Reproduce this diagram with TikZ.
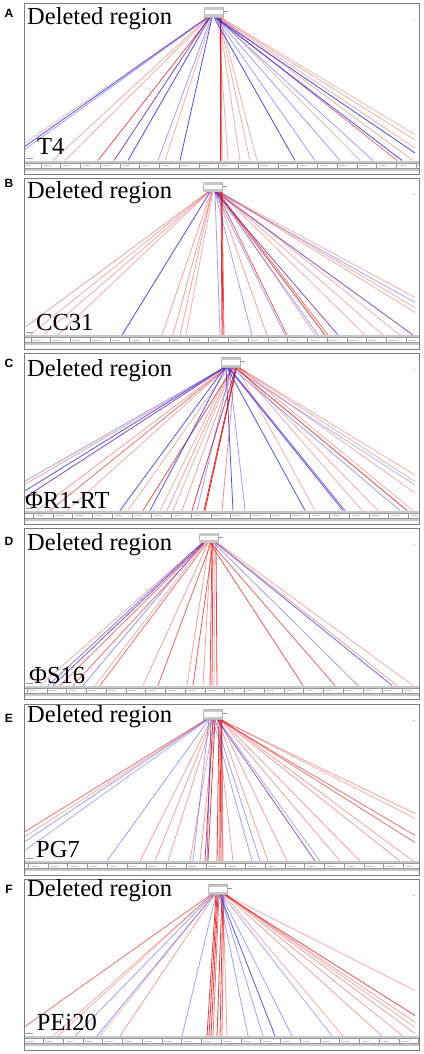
\documentclass[tikz,border=0pt]{standalone}
\usepackage{fontspec}
\setmainfont{Liberation Serif}
\newfontfamily\arialb{Liberation Sans}
\definecolor{rd}{RGB}{222,25,25}
\definecolor{bl}{RGB}{45,45,230}
\definecolor{pu}{RGB}{105,25,165}
\definecolor{fr}{RGB}{125,125,125}
\definecolor{rg}{RGB}{200,200,200}
\tikzset{
  lnk/.style={line width=0.8pt},
  frm/.style={draw=fr,line width=0.8pt},
  tick/.style={draw=fr!80,line width=0.4pt},
  tickt/.style={draw=rg,line width=0.9pt},
  ttl/.style={anchor=base west,inner sep=0pt,font=\fontsize{24.5}{24.5}\selectfont},
  plet/.style={inner sep=0pt,font=\arialb\bfseries\fontsize{12}{12}\selectfont}
}
% #1 top, #2 letter, #3 box x, #4 origin y, #5 label, #6 lines
\newcommand\rpanel[6]{%
\begin{scope}[shift={(0,#1)}]
\begin{scope}
\clip (24,0) rectangle (419,171);
\foreach \sv/\ex/\ey/\cl/\op in {#6}{%
  \draw[lnk,draw=\cl,draw opacity=\op] ({#3+\sv},#4) -- (\ex,\ey);
}
\fill[rg] (24,157) rectangle (419,159.5);
\fill[rg] (24,164.5) rectangle (419,167);
\draw[tick] (24,159.5) -- (419,159.5) (24,164.5) -- (419,164.5);
\foreach \k in {-1,...,20}{%
  \draw[tick] ({\rs+19.75*\k},159.5) -- ({\rs+19.75*\k},164.5);
  \draw[tickt] ({\rs+19.75*\k+2.5},162) -- ({\rs+19.75*\k+10},162);
}
\end{scope}
\draw[fr!60,line width=0.4pt,fill=white] (#3,#4-10) rectangle (#3+19,#4-0.5);
\fill[rg] (#3,#4-10) rectangle (#3+19,#4-7.2);
\fill[rg] (#3,#4-3) rectangle (#3+19,#4-0.5);
\draw[fr!80,line width=0.5pt] (#3+20,#4-6) -- (#3+24,#4-6);
\fill[fr] (414,16.5) circle (0.6);
\draw[fr!80,line width=0.5pt] (25.5,154.5) -- (33,154.5);
\draw[frm] (24,0) rectangle (419,171);
\node[ttl] (ttl#2) at (27,\tb) {Deleted region};
\node[ttl] (lbl#2) at (\lx,\lb) {#5};
\node[plet] (let#2) at (9,\ly) {#2};
\end{scope}}

\begin{document}
\begin{tikzpicture}[x=1pt,y=-1pt]
\fill[white] (0,0) rectangle (423,1054);
\useasboundingbox (0,0) rectangle (423,1054);

\def\ly{10}\def\tb{21.5}\def\lx{37}\def\lb{150.5}\def\rs{40.7}
\rpanel{3.5}{A}{204}{14}{T4}{3/24/143.5/bl/.8, 4/24/146.5/bl/.45, 4/24/140/rd/.3, 4/53/157/rd/.35, 5/65/157/rd/.35, 6/98/157/rd/.75, 5/114/157/pu/.8, 6/128/157/bl/.85, 7/158/157/bl/.45, 8/165/157/rd/.35, 8/180/157/bl/.85, 16/220/157/rd/.85, 16.5/221/157/rd/.85, 17/222/157/rd/.5, 14/228/157/rd/.35, 15/240/157/rd/.35, 15/250/157/rd/.35, 16/257/157/rd/.35, 10/295/157/bl/.85, 11/315/157/bl/.45, 12/340/157/bl/.45, 14/360/157/rd/.35, 12/373/157/bl/.45, 13/397/157/rd/.6, 11/402/157/bl/.85, 15/413/157/rd/.35, 16/415/136.5/rd/.35, 15/415/144.5/rd/.35, 12/415/149.5/bl/.85, 17/415/131/rd/.3}

\def\ly{5.5}\def\tb{20.8}\def\lx{36}\def\lb{152}\def\rs{30.7}
\rpanel{178}{B}{203}{14}{CC31}{5/24/150/rd/.4, 5/30/157/rd/.35, 6/43/157/rd/.35, 6/58/157/rd/.35, 7/122/157/bl/.85, 8/162/157/rd/.4, 9/173/157/rd/.4, 9/180/157/rd/.4, 10/186/157/rd/.35, 12/220/157/bl/.45, 18/222/157/rd/.85, 18.5/223/157/rd/.85, 19/224/157/rd/.7, 12/252/157/bl/.45, 13/267/157/rd/.4, 12/285/157/bl/.45, 14/287/157/rd/.7, 15/315/157/rd/.35, 13/318/157/bl/.45, 14/325/157/rd/.8, 15/328/157/rd/.6, 12/338/157/pu/.75, 16/365/157/rd/.35, 16/383/157/rd/.35, 17/400/157/rd/.35, 13/413/157/pu/.75, 16/415/119.5/rd/.35, 14/415/124.5/bl/.4, 17/415/129.5/rd/.35, 17/415/134.5/rd/.35}

\def\ly{10}\def\tb{23.2}\def\lx{25}\def\lb{154.8}\def\rs{33}
\rpanel{353.5}{C}{221}{14}{ΦR1-RT}{3/24/128.2/bl/.45, 4/24/131.5/rd/.4, 3/24/138/bl/.8, 4/24/144.5/pu/.8, 5/37/157/rd/.4, 6/50/157/rd/.6, 6/67/157/rd/.35, 4/120/157/bl/.8, 8/128/157/rd/.35, 12/143/157/rd/.75, 5/150/157/bl/.8, 10/160/157/rd/.35, 11/167/157/rd/.4, 12/173/157/rd/.35, 13/182/157/rd/.4, 15/192/157/rd/.85, 10/197/157/bl/.45, 15/204/157/rd/.9, 15.5/205/157/rd/.9, 14/222/157/rd/.5, 5/233/157/bl/.8, 8/245/157/bl/.45, 6/305/157/bl/.8, 16/315/157/rd/.35, 7/343/157/bl/.8, 8/345/157/pu/.7, 17/362/157/rd/.35, 17/378/157/rd/.35, 10/400/157/bl/.45, 14/407/157/rd/.8, 18/413/157/rd/.35, 18/415/121.5/rd/.35, 18/415/128/rd/.35, 12/415/131.5/bl/.35, 17/415/139.5/rd/.35}

\def\ly{13}\def\tb{21.5}\def\lx{29}\def\lb{154.8}\def\rs{46.7}
\rpanel{528.5}{D}{199}{14.5}{ΦS16}{3/40/157/rd/.35, 3/48/157/bl/.6, 4/53/157/pu/.75, 5/60/157/rd/.6, 6/73/157/rd/.6, 4/83/157/bl/.5, 6/95/157/rd/.35, 8/100/157/rd/.6, 9/143/157/rd/.4, 12/158/157/rd/.65, 10/187/157/rd/.4, 14/193/157/rd/.7, 12/203/157/rd/.4, 13/210/157/rd/.8, 14/212/157/rd/.8, 16/214/157/rd/.3, 17/217/157/rd/.8, 11/303/157/rd/.7, 12/335/157/rd/.65, 15/358/157/bl/.45, 17/392/157/bl/.7, 18/397/157/rd/.4, 19/413/157/rd/.35}

\def\ly{14}\def\tb{18.2}\def\lx{36}\def\lb{153}\def\rs{28}
\rpanel{704}{E}{203}{15.5}{PG7}{3/24/128.2/rd/.6, 4/24/133.2/rd/.35, 4/24/138.2/bl/.45, 5/24/147/bl/.4, 6/107/157/bl/.45, 8/140/157/rd/.4, 9/155/157/rd/.4, 10/168/157/rd/.4, 11/190/157/rd/.4, 6/193/157/bl/.45, 12/200/157/rd/.45, 10/205/157/rd/.85, 8/207/157/bl/.6, 12/208/157/rd/.85, 16/217/157/rd/.85, 17/219/157/rd/.5, 18/220/157/rd/.85, 18.5/222/157/rd/.85, 19/223/157/rd/.5, 14/233/157/rd/.4, 10/252/157/bl/.45, 12/260/157/bl/.45, 15/268/157/rd/.4, 16/287/157/rd/.4, 14/315/157/pu/.7, 15/320/157/bl/.4, 17/340/157/rd/.4, 18/360/157/rd/.4, 18/400/157/rd/.4, 19/413/157/rd/.4, 17/415/109.5/rd/.4, 18/415/114.5/rd/.35, 16/415/131.5/rd/.6, 17/415/138.5/rd/.6}

\def\ly{10.5}\def\tb{17.2}\def\lx{36.7}\def\lb{151.5}\def\rs{43.3}
\rpanel{879}{F}{208}{15.5}{PEi20}{3/24/148.2/rd/.6, 4/53/157/rd/.35, 4/58/157/rd/.35, 5/75/157/bl/.45, 6/97/157/bl/.5, 6/100/157/rd/.3, 7/120/157/rd/.4, 8/182/157/bl/.45, 8/207/157/rd/.85, 9/209/157/rd/.85, 10/211/157/rd/.85, 11/213/157/rd/.6, 14/217/157/rd/.85, 15/220/157/rd/.85, 16/222/157/rd/.6, 15/227/157/rd/.4, 11/248/157/bl/.45, 12/263/157/bl/.45, 12/275/157/bl/.8, 13/292/157/bl/.45, 14/332/157/bl/.4, 16/343/157/rd/.35, 17/382/157/rd/.4, 18/403/157/rd/.4, 17/415/111.5/rd/.35, 16/415/136.5/rd/.75, 17/415/143.2/rd/.4, 18/415/148.2/rd/.35, 18/415/154.5/rd/.4}
\end{tikzpicture}
\end{document}
